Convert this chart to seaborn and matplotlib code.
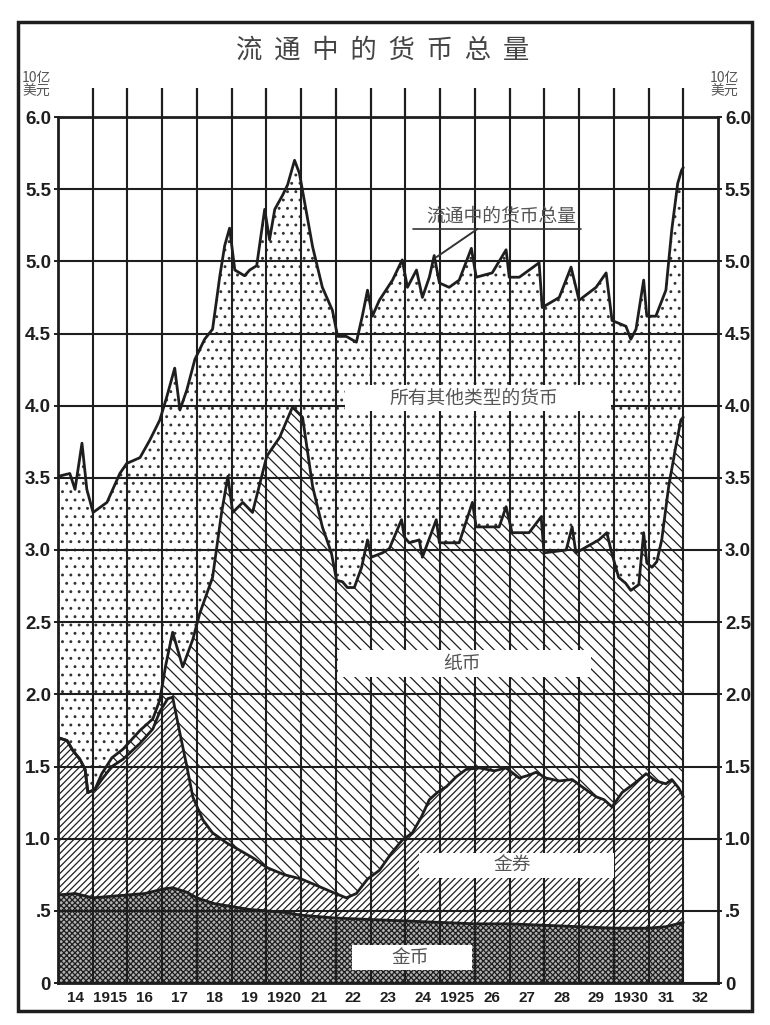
import matplotlib
matplotlib.use("Agg")
import matplotlib.pyplot as plt
import seaborn as sns
from matplotlib.patches import Rectangle

# ---------------- data (billions of dollars) ----------------
total_x = [1914.00, 1914.34, 1914.49, 1914.69, 1914.83, 1915.01, 1915.41, 1915.78, 1915.98,
           1916.36, 1916.64, 1916.93, 1917.13, 1917.36, 1917.51, 1917.71, 1917.94, 1918.22,
           1918.45, 1918.66, 1918.80, 1918.94, 1919.09, 1919.37, 1919.52, 1919.72, 1919.95,
           1920.09, 1920.24, 1920.47, 1920.61, 1920.81, 1920.95, 1921.33, 1921.61, 1921.90,
           1922.05, 1922.30, 1922.59, 1922.76, 1922.91, 1923.05, 1923.25, 1923.63, 1923.91,
           1924.06, 1924.32, 1924.49, 1924.69, 1924.83, 1924.98, 1925.26, 1925.55, 1925.90,
           1926.04, 1926.50, 1926.90, 1926.99, 1927.28, 1927.85, 1927.94, 1928.43, 1928.77,
           1929.00, 1929.49, 1929.78, 1929.95, 1930.35, 1930.49, 1930.64, 1930.86, 1930.95,
           1931.21, 1931.50, 1931.67, 1931.84, 1931.95, 1932.00]
total_y = [3.51, 3.53, 3.42, 3.74, 3.42, 3.26, 3.33, 3.53, 3.60,
           3.64, 3.76, 3.90, 4.06, 4.26, 3.97, 4.11, 4.32, 4.46,
           4.53, 4.90, 5.11, 5.23, 4.94, 4.90, 4.94, 4.97, 5.36,
           5.15, 5.36, 5.46, 5.53, 5.70, 5.61, 5.10, 4.82, 4.66,
           4.48, 4.48, 4.44, 4.62, 4.80, 4.62, 4.73, 4.87, 5.01,
           4.82, 4.94, 4.75, 4.89, 5.04, 4.85, 4.82, 4.87, 5.09,
           4.89, 4.92, 5.08, 4.89, 4.89, 4.99, 4.68, 4.75, 4.96,
           4.73, 4.82, 4.92, 4.59, 4.55, 4.46, 4.53, 4.87, 4.62,
           4.62, 4.80, 5.22, 5.54, 5.63, 5.65]

paper_x = [1914.00, 1914.26, 1914.43, 1914.63, 1914.78, 1914.86, 1915.06, 1915.26, 1915.55,
           1915.87, 1916.36, 1916.73, 1916.93, 1917.10, 1917.30, 1917.59, 1917.88, 1918.08,
           1918.45, 1918.71, 1918.89, 1919.03, 1919.32, 1919.60, 1920.01, 1920.38, 1920.75,
           1921.04, 1921.33, 1921.61, 1921.87, 1922.02, 1922.19, 1922.33, 1922.53, 1922.74,
           1922.91, 1923.02, 1923.34, 1923.54, 1923.89, 1923.97, 1924.11, 1924.40, 1924.49,
           1924.89, 1924.98, 1925.55, 1925.93, 1926.04, 1926.70, 1926.90, 1927.07, 1927.56,
           1927.91, 1927.99, 1928.63, 1928.80, 1928.91, 1929.57, 1929.80, 1929.94, 1930.14,
           1930.34, 1930.49, 1930.72, 1930.86, 1930.95, 1931.10, 1931.24, 1931.38, 1931.58,
           1931.78, 1931.93, 1932.00]
paper_y = [1.70, 1.68, 1.61, 1.55, 1.48, 1.32, 1.34, 1.45, 1.56,
           1.62, 1.75, 1.83, 1.96, 2.20, 2.43, 2.19, 2.38, 2.56,
           2.81, 3.26, 3.51, 3.26, 3.33, 3.26, 3.65, 3.78, 3.99,
           3.92, 3.44, 3.16, 2.98, 2.79, 2.78, 2.74, 2.74, 2.88,
           3.07, 2.95, 2.98, 3.01, 3.21, 3.09, 3.05, 3.07, 2.95,
           3.21, 3.05, 3.05, 3.33, 3.16, 3.16, 3.30, 3.12, 3.12,
           3.23, 2.98, 3.00, 3.16, 2.98, 3.07, 3.12, 2.98, 2.81,
           2.77, 2.72, 2.76, 3.12, 2.91, 2.88, 2.92, 3.07, 3.44,
           3.71, 3.90, 3.92]

cert_x = [1914.00, 1914.26, 1914.43, 1914.63, 1914.78, 1914.86, 1915.06, 1915.26, 1915.55,
          1915.87, 1916.36, 1916.73, 1916.93, 1917.16, 1917.30, 1917.51, 1917.71, 1917.88,
          1918.17, 1918.45, 1918.86, 1919.23, 1919.66, 1920.01, 1920.52, 1921.01, 1921.50,
          1921.99, 1922.30, 1922.59, 1922.91, 1923.25, 1923.60, 1923.91, 1924.20, 1924.46,
          1924.69, 1924.92, 1925.18, 1925.47, 1925.75, 1926.13, 1926.56, 1926.90, 1927.28,
          1927.56, 1927.76, 1928.05, 1928.43, 1928.80, 1929.14, 1929.49, 1929.72, 1929.95,
          1930.24, 1930.58, 1930.93, 1931.21, 1931.50, 1931.67, 1931.87, 1932.00]
cert_y = [1.70, 1.68, 1.61, 1.55, 1.48, 1.32, 1.34, 1.41, 1.50,
          1.55, 1.66, 1.76, 1.88, 1.97, 1.98, 1.73, 1.50, 1.29,
          1.13, 1.04, 0.97, 0.92, 0.86, 0.80, 0.75, 0.72, 0.67,
          0.62, 0.59, 0.62, 0.72, 0.78, 0.90, 0.99, 1.04, 1.15,
          1.27, 1.32, 1.36, 1.43, 1.48, 1.49, 1.47, 1.49, 1.42,
          1.44, 1.46, 1.42, 1.40, 1.41, 1.35, 1.29, 1.27, 1.22,
          1.32, 1.38, 1.45, 1.40, 1.38, 1.41, 1.35, 1.29]

coin_x = [1914.0, 1914.5, 1915.0, 1915.5, 1916.0, 1916.5, 1917.0, 1917.3, 1917.7, 1918.0,
          1918.5, 1919.0, 1919.5, 1920.0, 1920.5, 1921.0, 1921.5, 1922.0, 1923.0, 1924.0,
          1925.0, 1926.0, 1927.0, 1928.0, 1929.0, 1930.0, 1931.0, 1931.5, 1932.0]
coin_y = [0.61, 0.62, 0.59, 0.60, 0.61, 0.62, 0.65, 0.66, 0.63, 0.59,
          0.55, 0.53, 0.51, 0.50, 0.49, 0.47, 0.46, 0.45, 0.44, 0.43,
          0.42, 0.41, 0.41, 0.40, 0.39, 0.38, 0.38, 0.39, 0.42]

y_ticks = [0, 0.5, 1.0, 1.5, 2.0, 2.5, 3.0, 3.5, 4.0, 4.5, 5.0, 5.5, 6.0]
y_tick_labels = ["0", ".5", "1.0", "1.5", "2.0", "2.5", "3.0", "3.5", "4.0",
                 "4.5", "5.0", "5.5", "6.0"]
year_grid = list(range(1915, 1933))
year_label_pos = [y + 0.5 for y in range(1914, 1933)]
year_labels = ["14", "1915", "16", "17", "18", "19", "1920", "21", "22", "23",
               "24", "1925", "26", "27", "28", "29", "1930", "31", "32"]

title_text = "流  通  中  的  货  币  总  量"
unit_text = "10亿\n美元"
label_other = "所有其他类型的货币"
label_paper = "纸币"
label_cert = "金券"
label_coin = "金币"
label_total = "流通中的货币总量"

# ---------------- style ----------------
sns.set_theme(style="white")
cjk = "Noto Sans CJK SC"
num_font = "Liberation Sans"
plt.rcParams["font.family"] = [cjk, "DejaVu Sans"]
plt.rcParams["hatch.linewidth"] = 0.9
INK = "#1e1e1e"
TXT = "#555555"

W, H = 770, 1025
fig = plt.figure(figsize=(W / 100, H / 100), dpi=100)
fig.patch.set_facecolor("white")


def fx(px):
    return px / W


def fy(py):
    return 1 - py / H


ax = fig.add_axes([fx(58), fy(983), fx(718) - fx(58), fy(117) - fy(983)])
ax.set_facecolor("white")

# stacked areas, drawn from the top down (each covers the one above)
ax.fill_between(total_x, 0, total_y, facecolor="white", edgecolor="#333333",
                hatch="..", linewidth=0, zorder=1)
ax.fill_between(paper_x, 0, paper_y, facecolor="white", edgecolor=INK,
                hatch="\\\\\\", linewidth=0, zorder=1.1)
ax.fill_between(cert_x, 0, cert_y, facecolor="white", edgecolor=INK,
                hatch="/////", linewidth=0, zorder=1.2)
ax.fill_between(coin_x, 0, coin_y, facecolor="#b0b0b0", edgecolor=INK,
                hatch="xxxxxx", linewidth=0, zorder=1.3)

for xs, ys in [(total_x, total_y), (paper_x, paper_y), (cert_x, cert_y), (coin_x, coin_y)]:
    sns.lineplot(x=xs, y=ys, ax=ax, sort=False, estimator=None, color=INK,
                 linewidth=2.0, zorder=4)

ax.set_xlim(1914, 1933)
ax.set_ylim(0, 6.0)

# grid and ticks
ax.set_axisbelow(False)
ax.set_xticks(year_grid)
ax.set_xticklabels([])
ax.set_xticks(year_label_pos, minor=True)
ax.set_xticklabels(year_labels, minor=True, fontfamily=num_font, fontsize=11,
                   fontweight="bold", color=INK)
ax.tick_params(axis="x", which="major", top=True, bottom=False, direction="out",
               length=21, width=1.6, color=INK, labelbottom=False)
ax.tick_params(axis="x", which="minor", bottom=True, top=False, length=0, pad=6)
ax.set_yticks(y_ticks)
ax.set_yticklabels(y_tick_labels, fontfamily=num_font, fontsize=13.5, fontweight="bold",
                   color=INK)
ax.tick_params(axis="y", left=True, right=True, labelleft=True, labelright=True,
               direction="out", length=3, width=1.4, color=INK, pad=2)
ax.grid(True, which="major", axis="both", color=INK, linewidth=1.5)
ax.grid(False, which="minor")
for s in ax.spines.values():
    s.set_color(INK)
    s.set_linewidth(2.0)
    s.set_zorder(5)
ax.set_xlabel("")
ax.set_ylabel("")


def box(x0, x1, y0, y1, text, tx):
    ax.add_patch(Rectangle((x0, y0), x1 - x0, y1 - y0, facecolor="white",
                           edgecolor="none", zorder=6))
    ax.text(tx, (y0 + y1) / 2, text, ha="center", va="center", fontsize=13.5,
            color=TXT, zorder=7)


box(1922.25, 1929.92, 3.96, 4.14, label_other, 1925.98)
box(1922.05, 1929.34, 2.12, 2.31, label_paper, 1925.63)
box(1924.40, 1930.00, 0.73, 0.90, label_cert, 1927.07)
box(1922.45, 1925.93, 0.09, 0.26, label_coin, 1924.14)

# total label with underline and leader
ax.text(1926.77, 5.31, label_total, ha="center", va="center", fontsize=13.5,
        color=TXT, zorder=7)
ax.plot([1924.23, 1929.06], [5.225, 5.225], color="#333333", lw=1.2, zorder=7)
ax.plot([1926.08, 1924.90], [5.225, 5.03], color="#333333", lw=1.4, zorder=7)

# title, units, frame
fig.text(fx(383), fy(50), title_text, ha="center", va="center", fontsize=19,
         color="#444444", fontweight="light")
fig.text(fx(22), fy(71), unit_text, ha="left", va="top", fontsize=10,
         color=TXT, linespacing=1.0)
fig.text(fx(710), fy(71), unit_text, ha="left", va="top", fontsize=10,
         color=TXT, linespacing=1.0)
fig.add_artist(Rectangle((fx(18), fy(1011)), fx(752) - fx(18), fy(22) - fy(1011),
                         transform=fig.transFigure, fill=False, lw=2.5, ec=INK))

fig.savefig("out.png", dpi=100, facecolor="white")
